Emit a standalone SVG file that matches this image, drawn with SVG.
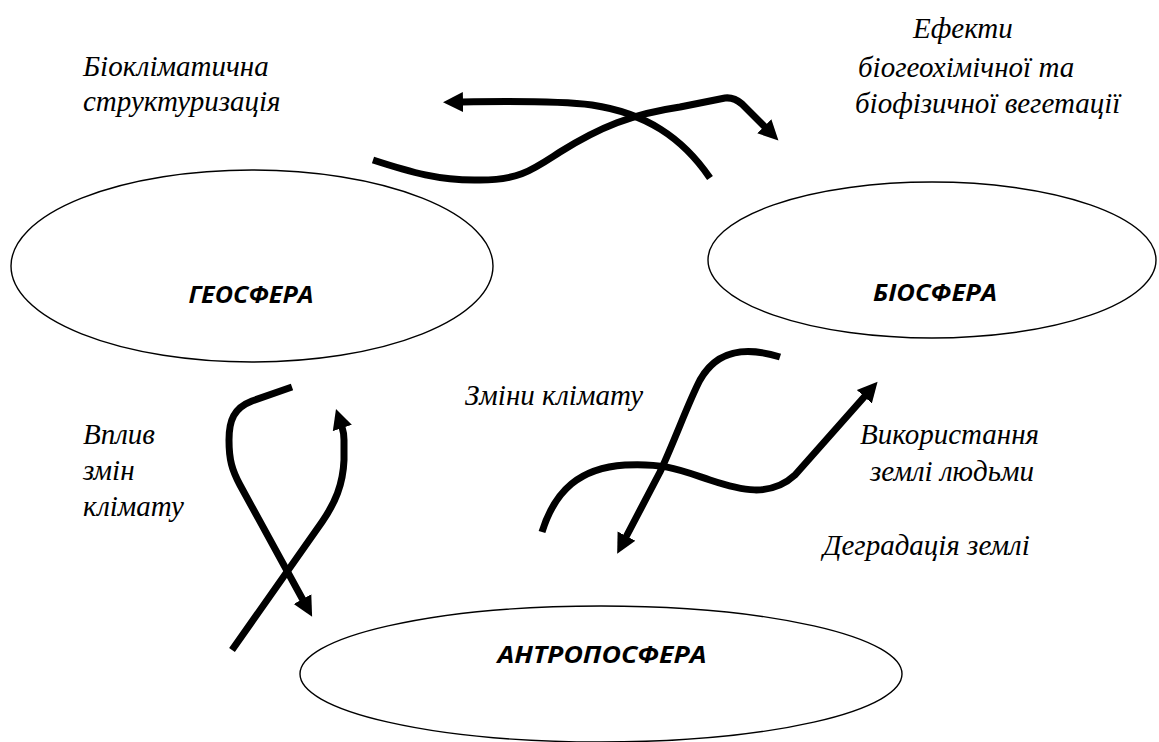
<svg xmlns="http://www.w3.org/2000/svg" width="1159" height="742" viewBox="0 0 1159 742">
<style>
.sphere{fill:#fff;stroke:#000;stroke-width:1.4}
.title{font-family:'Open Sans','Liberation Sans',sans-serif;font-weight:700;font-style:italic;font-size:24px;fill:#000;text-anchor:middle}
.lbl{font-family:'Liberation Serif','Times New Roman',serif;font-style:italic;font-size:29px;fill:#000}
.flow{fill:none;stroke:#000;stroke-width:7;stroke-linejoin:round}
</style>
<defs>
<marker id="ah" markerUnits="userSpaceOnUse" markerWidth="22" markerHeight="22" refX="1" refY="10" orient="auto" viewBox="0 0 22 20">
<path d="M0,0 L20,10 L0,20 z" fill="#000"/>
</marker>
</defs>
<rect width="1159" height="742" fill="#fff"/>
<g id="geosphere">
<ellipse class="sphere" cx="252" cy="266" rx="241" ry="96"/>
<text class="title" x="251" y="303" textLength="125" lengthAdjust="spacingAndGlyphs">ГЕОСФЕРА</text>
</g>
<g id="biosphere">
<ellipse class="sphere" cx="932" cy="260" rx="224" ry="78"/>
<text class="title" x="935" y="301" textLength="124" lengthAdjust="spacingAndGlyphs">БІОСФЕРА</text>
</g>
<g id="anthroposphere">
<ellipse class="sphere" cx="601" cy="674" rx="301" ry="68"/>
<text class="title" x="602" y="663" textLength="209" lengthAdjust="spacingAndGlyphs">АНТРОПОСФЕРА</text>
</g>
<g id="connectors">
<path class="flow" marker-end="url(#ah)" d="M710,178 C682,137 645,113 592,105 C560,101 520,101 462,102"/>
<path class="flow" marker-end="url(#ah)" d="M373,160 C410,172 440,181 480,180 C520,180 532,170 560,152 C600,127 632,114 680,107 L725,98 Q734,97 742,104 L765,127"/>
<path class="flow" marker-end="url(#ah)" d="M292,387 L252,401 C234,408 229,420 229,440 C229,460 232,470 240,485 L303,600"/>
<path class="flow" marker-end="url(#ah)" d="M232,650 L322,522 C335,503 343,485 344,460 L344,440 C344,434 343,430 342,427"/>
<path class="flow" marker-end="url(#ah)" d="M780,357 C748,347 718,348 700,380 C688,403 675,440 660,472 L626,537"/>
<path class="flow" marker-end="url(#ah)" d="M542,532 C555,490 580,468 625,465 C665,463 680,470 710,480 C740,490 770,498 795,475 L865,396"/>
</g>
<g id="labels">
<text class="lbl" x="83" y="76">Біокліматична</text>
<text class="lbl" x="83" y="111">структуризація</text>
<text class="lbl" x="913" y="38">Ефекти</text>
<text class="lbl" x="858" y="77">біогеохімічної та</text>
<text class="lbl" x="855" y="113">біофізичної вегетації</text>
<text class="lbl" x="465" y="405">Зміни клімату</text>
<text class="lbl" x="83" y="444">Вплив</text>
<text class="lbl" x="83" y="480">змін</text>
<text class="lbl" x="83" y="516">клімату</text>
<text class="lbl" x="860" y="444">Використання</text>
<text class="lbl" x="870" y="481">землі людьми</text>
<text class="lbl" x="823" y="555">Деградація землі</text>
</g>
</svg>
